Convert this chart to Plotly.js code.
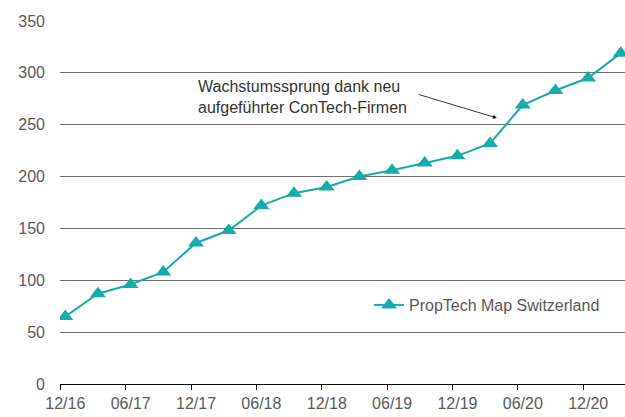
<!DOCTYPE html>
<html>
<head>
<meta charset="utf-8">
<script src="https://cdn.plot.ly/plotly-3.0.1.min.js"></script>
<style>
  body { margin: 0; padding: 0; background: #fff; }
  #chart { width: 625px; height: 417px; }
</style>
</head>
<body>
<div id="chart"></div>
<script>
// quarterly counts, 12/16 .. 03/21
var quarters = ['12/16', '03/17', '06/17', '09/17', '12/17', '03/18', '06/18', '09/18', '12/18',
                '03/19', '06/19', '09/19', '12/19', '03/20', '06/20', '09/20', '12/20', '03/21'];
var firms = [65, 87, 96, 108, 136, 148, 172, 184, 190, 200, 206, 213, 220, 232, 269, 283, 295, 319];
var tickLabels = ['12/16', '06/17', '12/17', '06/18', '12/18', '06/19', '12/19', '06/20', '12/20'];

var idx = quarters.map(function (q, i) { return i; });
var tickPos = tickLabels.map(function (t) { return quarters.indexOf(t) - 0.15; });

var teal = '#17abab';
var grey = '#595959';
var fontFam = '"Liberation Sans", Arial, sans-serif';

var trace = {
    x: idx,
    y: firms,
    type: 'scatter',
    mode: 'lines+markers',
    name: 'PropTech Map Switzerland',
    line: { color: teal, width: 2 },
    marker: { symbol: 'triangle-up', size: 14, color: teal }
};

var layout = {
    width: 625,
    height: 417,
    margin: { l: 60, r: 0, t: 21, b: 33 },
    paper_bgcolor: '#fff',
    plot_bgcolor: '#fff',
    font: { family: fontFam, size: 16, color: grey },
    showlegend: true,
    legend: {
        x: (369 - 60) / 565, y: 0.2176,
        xanchor: 'left', yanchor: 'middle',
        bgcolor: 'rgba(0,0,0,0)',
        font: { family: fontFam, size: 16, color: grey }
    },
    xaxis: {
        range: [-0.16, 17.13],
        tickmode: 'array',
        tickvals: tickPos,
        ticktext: tickLabels,
        ticklabelshift: 5,
        ticks: 'outside',
        ticklen: 5,
        tickcolor: '#000',
        tickwidth: 1,
        showgrid: false,
        zeroline: false,
        showline: true,
        linecolor: '#000',
        linewidth: 1,
        tickfont: { family: fontFam, size: 16, color: grey }
    },
    yaxis: {
        range: [0, 350],
        tickvals: [0, 50, 100, 150, 200, 250, 300, 350],
        showgrid: true,
        gridcolor: '#6e6e6e',
        gridwidth: 1.2,
        zeroline: false,
        showline: false,
        ticks: '',
        ticklabelstandoff: 14,
        tickfont: { family: fontFam, size: 16, color: grey }
    },
    annotations: [
        {
            xref: 'paper', yref: 'paper',
            x: (196 - 60) / 565, y: (384 - 76) / 363,
            xanchor: 'left', yanchor: 'top',
            align: 'left',
            showarrow: false,
            text: 'Wachstumssprung dank neu<br>aufgeführter ConTech-Firmen',
            font: { family: fontFam, size: 16, color: '#333' }
        },
        {
            xref: 'x', yref: 'y', axref: 'x', ayref: 'y',
            x: 13.21, y: 256.5,
            ax: 10.77, ay: 279.6,
            text: '',
            showarrow: true,
            arrowhead: 2,
            arrowsize: 1,
            arrowwidth: 0.8,
            arrowcolor: '#000'
        }
    ]
};

Plotly.newPlot('chart', [trace], layout, { displayModeBar: false, staticPlot: true });
</script>
</body>
</html>
